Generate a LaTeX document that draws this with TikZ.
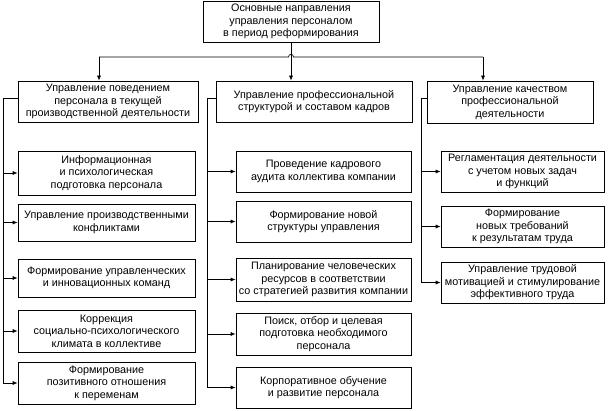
\documentclass[tikz,border=0pt]{standalone}
\usepackage{fontspec}
\setmainfont{Liberation Sans}
\usetikzlibrary{arrows.meta,calc}
\begin{document}
\begin{tikzpicture}[x=1pt,y=-1pt,
  box/.style={draw, line width=0.7pt, align=center, inner sep=1pt,
    font=\fontsize{10.8}{12.4}\selectfont},
  ln/.style={line width=0.7pt},
  arr/.style={line width=0.7pt,-{Latex[length=5pt,width=4pt]}}]
\useasboundingbox (0,0) rectangle (610,411);
% top
\node[box,minimum width=176pt,minimum height=41pt] (top) at (291,21.5)
  {Основные направления\\управления персоналом\\в период реформирования};
% level 2
\node[box,minimum width=180pt,minimum height=41pt] (L) at (108,101.5)
  {Управление поведением\\персонала в текущей\\производственной деятельности};
\node[box,minimum width=196pt,minimum height=41pt] (M) at (314,101.5)
  {Управление профессиональной\\структурой и составом кадров};
\node[box,minimum width=166pt,minimum height=42pt] (R) at (510,102)
  {Управление качеством\\профессиональной\\деятельности};
% left column
\node[box,minimum width=177pt,minimum height=44pt] (L1) at (106.5,173)
  {Информационная\\и психологическая\\подготовка персонала};
\node[box,minimum width=177pt,minimum height=37pt] (L2) at (106.5,222.5)
  {Управление производственными\\конфликтами};
\node[box,minimum width=177pt,minimum height=38pt] (L3) at (106.5,278)
  {Формирование управленческих\\и инновационных команд};
\node[box,minimum width=177pt,minimum height=42pt] (L4) at (106.5,331)
  {Коррекция\\социально-психологического\\климата в коллективе};
\node[box,minimum width=177pt,minimum height=42pt] (L5) at (106.5,383)
  {Формирование\\позитивного отношения\\к переменам};
% middle column
\node[box,minimum width=175pt,minimum height=41pt] (M1) at (323.5,171.5)
  {Проведение кадрового\\аудита коллектива компании};
\node[box,minimum width=175pt,minimum height=41pt] (M2) at (323.5,221.5)
  {Формирование новой\\структуры управления};
\node[box,minimum width=175pt,minimum height=43pt] (M3) at (323.5,279.5)
  {Планирование человеческих\\ресурсов в соответствии\\со стратегией развития компании};
\node[box,minimum width=175pt,minimum height=42pt] (M4) at (323.5,334)
  {Поиск, отбор и целевая\\подготовка необходимого\\персонала};
\node[box,minimum width=175pt,minimum height=41pt] (M5) at (323.5,387.5)
  {Корпоративное обучение\\и развитие персонала};
% right column
\node[box,minimum width=163pt,minimum height=41pt] (R1) at (522.5,171.5)
  {Регламентация деятельности\\с учетом новых задач\\и функций};
\node[box,minimum width=163pt,minimum height=41pt] (R2) at (522.5,226.5)
  {Формирование\\новых требований\\к результатам труда};
\node[box,minimum width=163pt,minimum height=41pt] (R3) at (522.5,282.5)
  {Управление трудовой\\мотивацией и стимулирование\\эффективного труда};
% bus
\coordinate (bl) at (99,57);
\coordinate (br) at (483,57);
\coordinate (hop) at (top.south |- bl);
\draw[ln] (bl) -- ($(hop)+(-2.5,0)$) .. controls ($(hop)+(-2.5,-3.5)$) and ($(hop)+(2.5,-3.5)$) .. ($(hop)+(2.5,0)$) -- (br);
\draw[arr] (top.south) -- (top.south |- M.north);
\draw[arr] (bl) -- (bl |- L.north);
\draw[arr] (br) -- (br |- R.north);
% spines
\coordinate (sL) at (3,98);
\coordinate (sM) at (207,98);
\coordinate (sR) at (421,98);
\draw[ln] (L.west |- sL) -- (sL) -- (sL |- L5.west);
\draw[ln] (M.west |- sM) -- (sM) -- (sM |- M5.west);
\draw[ln] (R.west |- sR) -- (sR) -- (sR |- R3.west);
\foreach \b in {L1,L2,L3,L4,L5} \draw[arr] (sL |- \b.west) -- (\b.west);
\foreach \b in {M1,M2,M3,M4,M5} \draw[arr] (sM |- \b.west) -- (\b.west);
\foreach \b in {R1,R2,R3} \draw[arr] (sR |- \b.west) -- (\b.west);
\end{tikzpicture}
\end{document}
